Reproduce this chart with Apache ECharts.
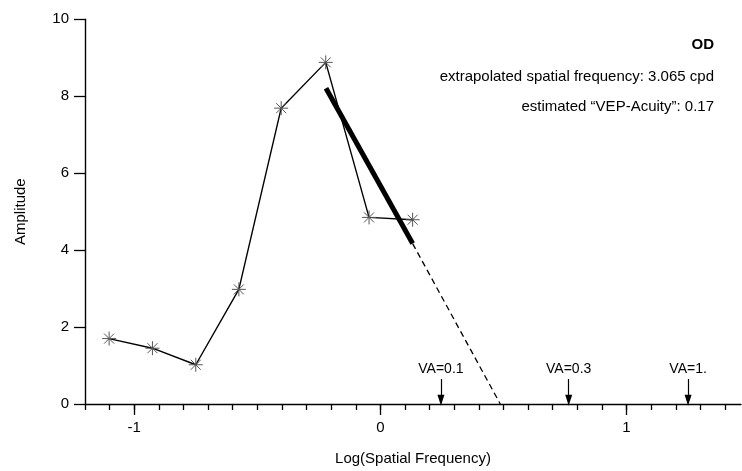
<!DOCTYPE html>
<html>
<head>
<meta charset="utf-8">
<script src="https://cdn.jsdelivr.net/npm/echarts@6/dist/echarts.min.js"></script>
<style>
html,body{margin:0;padding:0;background:#fff;}
#c{width:742px;height:471px;}
</style>
</head>
<body>
<div id="c"></div>
<script>
// Data
var logFreq = [-1.102, -0.926, -0.750, -0.575, -0.403, -0.222, -0.046, 0.131];
var amplitude = [1.70, 1.45, 1.02, 2.98, 7.69, 8.88, 4.85, 4.79];
var fitX = [-0.221, 0.131];
var fitY = [8.21, 4.17];
var extrapX = [0.131, 0.487];
var extrapY = [4.17, 0];
var vaLabels = ['VA=0.1', 'VA=0.3', 'VA=1.'];
var vaX = [0.246, 0.765, 1.250];
var xMinorTicks = [-1.2,-1.1,-1.0,-0.9,-0.8,-0.7,-0.6,-0.5,-0.4,-0.3,-0.2,-0.1,0,0.1,0.2,0.3,0.4,0.5,0.6,0.7,0.8,0.9,1.0,1.1,1.2,1.3,1.4];
var xMajorTicks = [-1, 0, 1];
var yTicks = [0, 2, 4, 6, 8, 10];
var infoLines = ['OD', 'extrapolated spatial frequency: 3.065 cpd', 'estimated \u201CVEP-Acuity\u201D: 0.17'];

var FONT = '"Liberation Sans", Arial, Helvetica, sans-serif';
var chart = echarts.init(document.getElementById('c'), null, {renderer: 'canvas'});

function pairs(xs, ys) { return xs.map(function (x, i) { return [x, ys[i]]; }); }

var asterisk = 'path://M0,-7L0,7M-7,0L7,0M-5,-5L5,5M-5,5L5,-5';

var option = {
  animation: false,
  backgroundColor: '#fff',
  textStyle: {fontFamily: FONT},
  grid: {left: 85, right: 1, top: 19.3, bottom: 66, containLabel: false},
  xAxis: [{
    type: 'value', min: -1.2, max: 1.465, position: 'bottom',
    splitLine: {show: false},
    axisLine: {show: true, onZero: false, lineStyle: {color: '#000', width: 1.4}},
    axisTick: {show: true, customValues: xMinorTicks, length: 6, lineStyle: {color: '#000', width: 1.3}},
    axisLabel: {show: true, customValues: xMajorTicks, margin: 16, color: '#000', fontSize: 15, fontFamily: FONT},
    name: 'Log(Spatial Frequency)', nameLocation: 'middle', nameGap: 47,
    nameTextStyle: {color: '#000', fontSize: 15, fontFamily: FONT}
  }, {
    type: 'value', min: -1.2, max: 1.465, position: 'bottom',
    splitLine: {show: false},
    axisLine: {show: false, onZero: false},
    axisTick: {show: true, customValues: xMajorTicks, length: 11, lineStyle: {color: '#000', width: 1.3}},
    axisLabel: {show: false}
  }],
  yAxis: {
    type: 'value', min: 0, max: 10, interval: 2,
    splitLine: {show: false},
    axisLine: {show: true, onZero: false, lineStyle: {color: '#000', width: 1.4}},
    axisTick: {show: true, length: 11, lineStyle: {color: '#000', width: 1.3}},
    axisLabel: {margin: 16, color: '#000', fontSize: 15, fontFamily: FONT,
      customValues: yTicks},
    name: 'Amplitude', nameLocation: 'middle', nameGap: 57, nameRotate: 90,
    nameTextStyle: {color: '#000', fontSize: 15, fontFamily: FONT}
  },
  series: [{
    type: 'line', data: pairs(logFreq, amplitude),
    symbol: asterisk, symbolSize: 14,
    lineStyle: {color: '#000', width: 1.4},
    itemStyle: {color: 'rgba(0,0,0,0)', borderColor: '#555', borderWidth: 1},
    z: 3
  }, {
    type: 'line', data: pairs(fitX, fitY), symbol: 'none',
    lineStyle: {color: '#000', width: 5, cap: 'butt'}, z: 4
  }, {
    type: 'line', data: pairs(extrapX, extrapY), symbol: 'none',
    lineStyle: {color: '#000', width: 1.3, type: [6, 4]}, z: 4,
    markLine: {
      silent: true, animation: false,
      symbol: ['none', 'triangle'], symbolSize: [7, 11],
      lineStyle: {color: '#000', width: 1.2, type: 'solid'},
      label: {show: true, position: 'start', distance: 3, color: '#000', fontSize: 14, fontFamily: FONT,
        formatter: function (p) { return p.data.name || p.name; }},
      data: vaX.map(function (x, i) {
        return [{name: vaLabels[i], coord: [x, 0.65]}, {coord: [x, 0.1]}];
      })
    }
  }],
  graphic: infoLines.map(function (t, i) {
    return {
      type: 'text', right: 28, top: [37, 69, 99][i],
      style: {text: t, fill: '#000', font: (i === 0 ? 'bold ' : '') + '15px ' + FONT, textAlign: 'right'}
    };
  })
};
chart.setOption(option);
</script>
</body>
</html>
